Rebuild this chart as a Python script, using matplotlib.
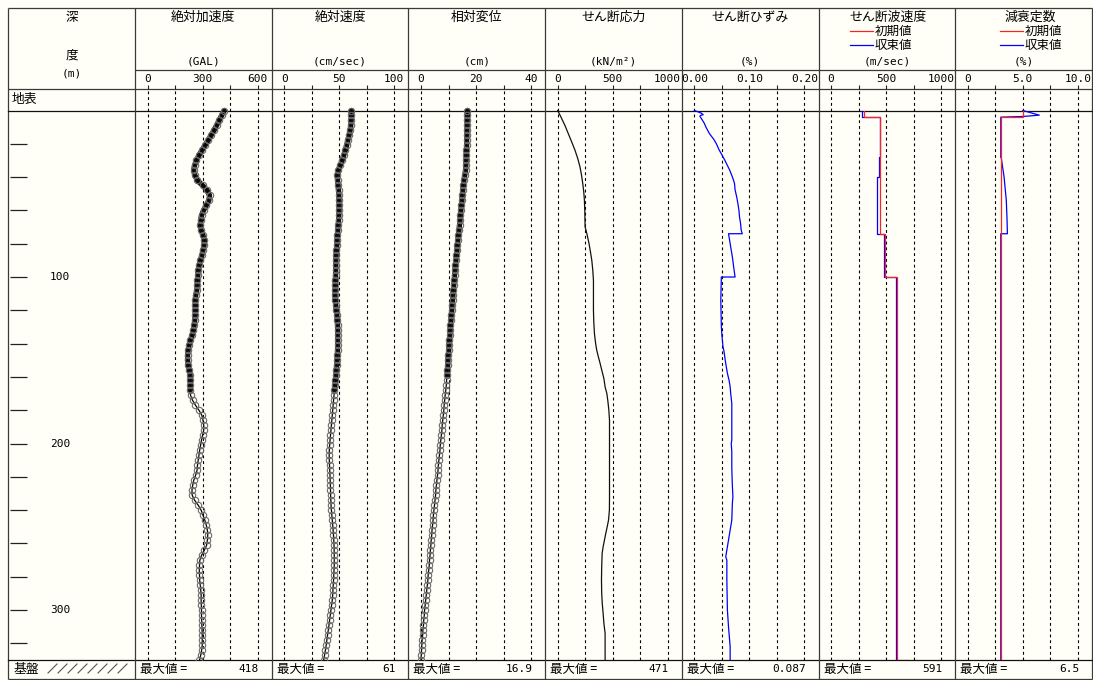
import matplotlib
matplotlib.use('Agg')
import matplotlib.pyplot as plt
import numpy as np

# ---------------- data ----------------
TITLES = ['絶対加速度', '絶対速度', '相対変位', 'せん断応力', 'せん断ひずみ', 'せん断波速度', '減衰定数']
UNITS = ['(GAL)', '(cm/sec)', '(cm)', '(kN/m²)', '(%)', '(m/sec)', '(%)']
AX_MAX = [600, 100, 40, 1000, 0.20, 1000, 10.0]
TICK_LABELS = [['0', '300', '600'], ['0', '50', '100'], ['0', '20', '40'], ['0', '500', '1000'],
               ['0.00', '0.10', '0.20'], ['0', '500', '1000'], ['0', '5.0', '10.0']]
MAX_VALUES = ['418', '61', '16.9', '471', '0.087', '591', '6.5']
DEPTH_LABELS = [100, 200, 300]
DEPTH_TICKS = [20, 40, 60, 80, 100, 120, 140, 160, 180, 200, 220, 240, 260, 280, 300, 320]
LEGEND = ['初期値', '収束値']

NODE_DEPTH = [0, 3, 6, 9, 12, 15, 18, 21, 24, 27, 30, 33, 36, 39, 42, 45, 48, 51, 54, 57, 60,
              63, 66, 69, 72, 75, 78, 81, 84, 87, 90, 93, 96, 99, 102, 105, 108, 111, 114, 117, 120,
              123, 126, 129, 132, 135, 138, 141, 144, 147, 150, 153, 156, 159, 162, 165, 168, 171, 174,
              177, 180, 183, 186, 189, 192, 195, 198, 201, 204, 207, 210, 213, 216, 219, 222, 225, 228,
              231, 234, 237, 240, 243, 246, 249, 252, 255, 258, 261, 264, 267, 270, 273, 276, 279, 282,
              285, 288, 291, 294, 297, 300, 303, 306, 309, 312, 315, 318, 321, 324, 327, 330]

ACC = [418, 404, 390, 376, 362, 346, 330, 313, 296, 280, 266, 256, 251, 258, 272, 300, 325, 338, 334, 320, 305,
       294, 289, 288, 292, 302, 310, 308, 302, 296, 288, 281, 276, 274, 272, 271, 268, 262, 260, 261, 261,
       260, 257, 254, 250, 243, 233, 226, 221, 218, 218, 222, 228, 232, 233, 233, 233, 234, 245,
       261, 280, 296, 302, 306, 306, 300, 294, 289, 284, 280, 276, 272, 270, 262, 252, 246, 242,
       243, 256, 276, 292, 302, 312, 320, 326, 328, 326, 322, 310, 295, 285, 283, 282, 283, 284,
       287, 290, 292, 292, 293, 294, 294, 295, 296, 297, 298, 298, 298, 295, 290, 283]

VEL = [61.0, 61.0, 60.8, 60.4, 59.8, 58.8, 57.7, 56.6, 55.4, 54.0, 52.6, 50.8, 49.0, 48.2, 48.4, 48.9, 49.3,
       49.6, 49.8, 49.9, 49.8, 49.6, 49.3, 49.0, 48.6, 48.3, 48.0, 47.7, 47.4, 47.1, 46.9, 46.8, 46.7,
       46.6, 46.5, 46.4, 46.3, 46.2, 46.4, 46.8, 47.3, 47.8, 48.2, 48.4, 48.5, 48.5, 48.5, 48.5, 48.4,
       48.3, 48.0, 47.6, 47.2, 46.9, 46.5, 46.1, 45.6, 45.2, 44.8, 44.4, 44.0, 43.6, 43.2, 42.8, 42.4,
       42.0, 41.6, 41.2, 40.9, 40.8, 40.9, 41.1, 41.3, 41.5, 41.7, 41.9, 42.0, 42.1, 42.3, 42.5, 42.8,
       43.2, 43.6, 44.0, 44.4, 44.7, 45.0, 45.2, 45.3, 45.4, 45.4, 45.4, 45.2, 45.0, 44.8, 44.5, 44.2,
       44.0, 43.6, 43.0, 42.4, 41.8, 41.2, 40.6, 40.0, 39.3, 38.7, 38.1, 37.4, 36.6, 35.8]

DISP = [16.9, 16.9, 16.8, 16.8, 16.7, 16.7, 16.6, 16.6, 16.5, 16.5, 16.4, 16.3, 16.2, 15.9, 15.6, 15.4,
        15.2, 15.0, 14.9, 14.7, 14.5, 14.3, 14.2, 14.0, 13.8, 13.6, 13.4, 13.2, 13.1, 12.9, 12.7, 12.5,
        12.4, 12.2, 12.1, 11.9, 11.8, 11.6, 11.5, 11.3, 11.2, 11.0, 10.9, 10.7, 10.6, 10.5, 10.3, 10.2,
        10.1, 9.9, 9.8, 9.7, 9.6, 9.5, 9.3, 9.2, 9.0, 8.8, 8.6, 8.4, 8.3, 8.1, 7.9, 7.7, 7.6, 7.4, 7.2,
        7.0, 6.9, 6.7, 6.5, 6.3, 6.2, 6.0, 5.8, 5.6, 5.4, 5.3, 5.1, 4.9, 4.7, 4.5, 4.4, 4.2, 4.0, 3.9,
        3.7, 3.6, 3.4, 3.3, 3.1, 3.0, 2.8, 2.6, 2.5, 2.3, 2.1, 1.9, 1.7, 1.5, 1.3, 1.2, 1.0, 0.9, 0.7,
        0.6, 0.4, 0.3, 0.2, 0.1, 0.0]

STRESS_DEPTH = [0, 4, 9, 14, 19, 24, 29, 34, 39, 44, 49, 54, 60, 66, 70, 72, 76, 80, 85, 90, 96, 102, 110,
                120, 127, 134, 140, 144, 148, 152, 156, 161, 166, 170, 175, 180, 186, 195, 205, 215, 225,
                232, 240, 246, 250, 254, 258, 262, 266, 274, 282, 290, 296, 302, 308, 314, 322, 330]
STRESS = [0, 30, 66, 97, 128, 158, 183, 203, 217, 228, 237, 243, 246, 248, 249, 258, 272, 285, 298, 310,
          319, 325, 325, 325, 328, 334, 345, 355, 370, 386, 401, 420, 431, 447, 457, 465, 471, 471, 471,
          471, 471, 471, 470, 462, 450, 437, 425, 413, 404, 400, 398, 400, 405, 413, 420, 431, 431, 431]

STRAIN_DEPTH = [0, 1.5, 2.5, 3.0, 3.5, 5, 7.7, 10, 13.7, 17.7, 20, 23.7, 26, 29.7, 33, 35.7, 39, 41.7, 44,
                47.7, 52, 55.7, 60, 63.8, 68, 71.8, 74, 74, 77.8, 82, 87.8, 93, 97.8, 100, 100, 113.8,
                129.8, 135, 141.9, 145, 149.8, 154, 157.8, 162, 165.9, 170, 175.9, 185, 197.9, 200, 205,
                215, 225, 232, 236, 246, 250, 254, 258, 262, 266, 268, 270, 282, 300, 310, 318, 322, 330]
STRAIN = [0.000, 0.012, 0.016, 0.011, 0.010, 0.013, 0.018, 0.021, 0.027, 0.036, 0.040, 0.045, 0.049,
          0.055, 0.060, 0.064, 0.068, 0.071, 0.073, 0.074, 0.077, 0.079, 0.081, 0.082, 0.084, 0.085,
          0.087, 0.062, 0.064, 0.066, 0.069, 0.071, 0.073, 0.074, 0.049, 0.048, 0.049, 0.050, 0.052,
          0.054, 0.056, 0.058, 0.060, 0.063, 0.065, 0.066, 0.068, 0.068, 0.068, 0.067, 0.068, 0.068,
          0.069, 0.070, 0.069, 0.068, 0.066, 0.064, 0.062, 0.060, 0.058, 0.057, 0.059, 0.059, 0.060,
          0.062, 0.064, 0.065, 0.065]

# shear-wave velocity: layer boundaries and values
VS_INIT_BOUNDS = [0, 4, 74, 100, 330]
VS_INIT = [297, 441, 491, 600]
VS_INIT_BASE = 700
VS_CONV_BOUNDS = [0, 4, 28, 40, 74, 100, 330]
VS_CONV = [283, 441, 435, 413, 485, 591]

# damping
H_INIT_BOUNDS = [0, 4, 330]
H_INIT = [5.0, 3.0]
H_CONV_DEPTH = [0, 2.8, 3.6, 4, 28, 28, 40, 54, 66, 74, 74, 330]
H_CONV = [5.0, 6.5, 5.0, 3.0, 3.0, 3.03, 3.3, 3.5, 3.57, 3.6, 3.0, 3.0]

# ---------------- layout ----------------
W, H = 1093, 680
BG = '#fffff7'
FRAME = '#3a3a3a'
RED = '#ff2020'
BLUE = '#0000ff'
CJK = ['Noto Sans CJK JP', 'DejaVu Sans']
MONO = ['DejaVu Sans Mono', 'Noto Sans CJK JP']

P0, PW = 135.0, 136.7
Y_TOP, Y_HDR, Y_TICK, Y_GROUND, Y_BASE, Y_BOT = 8, 70, 89, 110.5, 660, 679
X_L, X_R = 8, 1092
PX_PER_M = (Y_BASE - Y_GROUND) / 330.0
D_TOP = -(Y_GROUND - Y_TICK) / PX_PER_M

fig = plt.figure(figsize=(W / 100, H / 100), dpi=100)
fig.patch.set_facecolor(BG)

ov = fig.add_axes([0, 0, 1, 1])
ov.set_xlim(0, W)
ov.set_ylim(H, 0)
ov.axis('off')

lk = dict(color=FRAME, lw=0.9, solid_capstyle='butt')
ov.plot([X_L, X_R], [Y_TOP, Y_TOP], **lk)
ov.plot([X_L, X_R], [Y_BOT, Y_BOT], **lk)
ov.plot([X_L, X_L], [Y_TOP, Y_BOT], **lk)
ov.plot([X_R, X_R], [Y_TOP, Y_BOT], **lk)
ov.plot([P0, X_R], [Y_HDR, Y_HDR], **lk)
ov.plot([X_L, X_R], [Y_TICK, Y_TICK], **lk)
ov.plot([X_L, X_R], [Y_GROUND, Y_GROUND], color='#111111', lw=0.9)
ov.plot([X_L, X_R], [Y_BASE, Y_BASE], color='#111111', lw=0.9)
for i in range(7):
    x = P0 + i * PW
    ov.plot([x, x], [Y_TOP, Y_BOT], **lk)

# depth column header
ov.text(72, 17, '深', ha='center', va='center', fontsize=9, family=CJK)
ov.text(72, 55, '度', ha='center', va='center', fontsize=9, family=CJK)
ov.text(72, 73, '(m)', ha='center', va='center', fontsize=8, family=MONO)
ov.text(12, 99.5, '地表', ha='left', va='center', fontsize=9.2, family=CJK)
ov.text(14, 669, '基盤', ha='left', va='center', fontsize=9.2, family=CJK)
for k in range(8):
    ov.plot([48 + 10 * k, 57 + 10 * k], [673, 664], color='#555555', lw=0.8)

# depth axis (left column)
axd = fig.add_axes([X_L / W, (H - Y_BASE) / H, (P0 - X_L) / W, (Y_BASE - Y_TICK) / H])
axd.set_facecolor('none')
axd.set_xlim(X_L, P0)
axd.set_ylim(330, D_TOP)
axd.axis('off')
axd.hlines(DEPTH_TICKS, X_L + 2, X_L + 19, color='#222222', lw=0.9)
for d in DEPTH_LABELS:
    axd.text(60, d, str(d), ha='center', va='center', fontsize=8, family=MONO)

# panels
title_dx = [0, 0, 0, 0, 0, 1, 7]
band_limit = [170, 170, 160]
for i in range(7):
    left = P0 + i * PW
    M = AX_MAX[i]
    ax = fig.add_axes([left / W, (H - Y_BASE) / H, PW / W, (Y_BASE - Y_TICK) / H])
    ax.set_facecolor('none')
    ax.set_xlim(-12.6 / 110 * M, (PW - 12.6) / 110 * M)
    ax.set_ylim(330, D_TOP)
    for s in ax.spines.values():
        s.set_visible(False)
    ax.xaxis.tick_top()
    ax.set_xticks([0, M / 2, M], TICK_LABELS[i])
    ax.set_xticks([M / 4, 3 * M / 4], minor=True)
    ax.tick_params(axis='x', which='both', direction='out', length=3, width=0.8,
                   pad=0.5, labelsize=8, top=True, bottom=False, color='#222222')
    for lab in ax.get_xticklabels():
        lab.set_fontfamily(MONO)
    ax.set_yticks([])
    for v in [0, M / 4, M / 2, 3 * M / 4, M]:
        ax.axvline(v, color='k', lw=0.8, ls=(0, (2.6, 2.6)), zorder=1)

    cx = left + PW / 2
    ov.text(cx + title_dx[i], 17, TITLES[i], ha='center', va='center', fontsize=9.3, family=CJK)
    ov.text(cx, 62, UNITS[i], ha='center', va='center', fontsize=8, family=MONO)
    ov.text(left + 5, 669, '最大値 =', ha='left', va='center', fontsize=9, family=CJK)
    ov.text(left + 124, 669, MAX_VALUES[i], ha='right', va='center', fontsize=8, family=MONO)

    nd = np.array(NODE_DEPTH, dtype=float)
    if i in (0, 1, 2):
        vals = np.array([ACC, VEL, DISP][i], dtype=float)
        band = nd <= band_limit[i]
        ax.plot(vals[band], nd[band], color='#111111', lw=3.8, solid_capstyle='round', zorder=3)
        ax.plot(vals, nd, color='k', lw=0.9, zorder=3)
        ax.plot(vals, nd, ls='none', marker='o', ms=4.6, mfc='none', mec='#6a6a6a', mew=0.8, zorder=4)
    elif i == 3:
        ax.plot(STRESS, STRESS_DEPTH, color='#111111', lw=0.9, zorder=3)
    elif i == 4:
        ax.plot(STRAIN, STRAIN_DEPTH, color=BLUE, lw=0.9, zorder=3)
    elif i == 5:
        yi, xi = [], []
        for j, v in enumerate(VS_INIT):
            yi += [VS_INIT_BOUNDS[j], VS_INIT_BOUNDS[j + 1]]
            xi += [v, v]
        xi.append(VS_INIT_BASE)
        yi.append(VS_INIT_BOUNDS[-1])
        yc, xc = [], []
        for j, v in enumerate(VS_CONV):
            yc += [VS_CONV_BOUNDS[j], VS_CONV_BOUNDS[j + 1]]
            xc += [v, v]
        ax.plot(xc, yc, color=BLUE, lw=0.9, zorder=3)
        ax.plot(xi, yi, color=RED, lw=0.9, zorder=4)
    else:
        yi, xi = [], []
        for j, v in enumerate(H_INIT):
            yi += [H_INIT_BOUNDS[j], H_INIT_BOUNDS[j + 1]]
            xi += [v, v]
        ax.plot(H_CONV, H_CONV_DEPTH, color=BLUE, lw=0.9, zorder=3)
        ax.plot(xi, yi, color=RED, lw=0.9, zorder=4)

# legends in the last two headers
for lx in (850, 1000):
    ov.plot([lx, lx + 23], [31, 31], color=RED, lw=0.9)
    ov.plot([lx, lx + 23], [45, 45], color=BLUE, lw=0.9)
    ov.text(lx + 25, 31, LEGEND[0], ha='left', va='center', fontsize=9, family=CJK)
    ov.text(lx + 25, 45, LEGEND[1], ha='left', va='center', fontsize=9, family=CJK)

fig.savefig('out.png', dpi=100, facecolor=BG)
